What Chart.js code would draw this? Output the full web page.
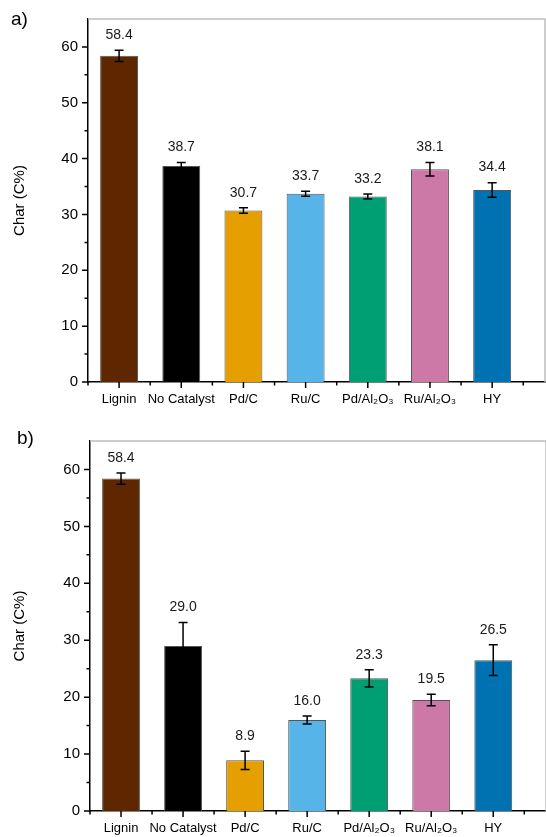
<!DOCTYPE html>
<html>
<head>
<meta charset="utf-8">
<script src="https://cdn.jsdelivr.net/npm/chart.js@4.4.1/dist/chart.umd.min.js"></script>
<style>
    body { margin: 0; background: #fff; font-family: "Liberation Sans", Arial, sans-serif; }
    .painel { position: absolute; left: 0; width: 546px; }
    .letra { position: absolute; font-size: 19px; color: #000; }
</style>
</head>
<body>
<div class="painel" style="top:0; height:418px;"><canvas id="graficoA" width="546" height="418"></canvas></div>
<div class="painel" style="top:418px; height:419px;"><canvas id="graficoB" width="546" height="419"></canvas></div>
<div class="letra" style="left:11px; top:8px;">a)</div>
<div class="letra" style="left:17px; top:427px;">b)</div>

<script>
const categorias = ["Lignin", "No Catalyst", "Pd/C", "Ru/C", "Pd/Al\u2082O\u2083", "Ru/Al\u2082O\u2083", "HY"];
const cores = ["#5e2700", "#000000", "#e69f00", "#56b4e9", "#009e73", "#cc79a7", "#0072b2"];
const ticksY = [0, 10, 20, 30, 40, 50, 60];

const charA = [58.4, 38.7, 30.7, 33.7, 33.2, 38.1, 34.4];
const erroA = [1.0, 0.6, 0.5, 0.45, 0.45, 1.2, 1.3];

const charB = [58.4, 29.0, 8.9, 16.0, 23.3, 19.5, 26.5];
const erroB = [1.0, 4.1, 1.6, 0.7, 1.5, 1.0, 2.7];

// barras de erro, rótulos, ticks e moldura cinza
const extras = {
    id: "extras",
    afterDatasetsDraw(chart, args, opts) {
        const ctx = chart.ctx;
        const x = chart.scales.x;
        const y = chart.scales.y;
        const area = chart.chartArea;
        const valores = chart.data.datasets[0].data;

        ctx.save();
        // moldura superior/direita
        ctx.strokeStyle = "#bdbdbd";
        ctx.lineWidth = 1.5;
        ctx.beginPath();
        ctx.moveTo(area.left, area.top);
        ctx.lineTo(area.right, area.top);
        ctx.lineTo(area.right, area.bottom);
        ctx.stroke();

        // erros
        ctx.strokeStyle = "#000";
        ctx.lineWidth = 1.5;
        valores.forEach((p, i) => {
            const px = x.getPixelForValue(p.x);
            const topo = y.getPixelForValue(p.y + opts.erros[i]);
            const base = y.getPixelForValue(p.y - opts.erros[i]);
            ctx.beginPath();
            ctx.moveTo(px, topo); ctx.lineTo(px, base);
            ctx.moveTo(px - 4.5, topo); ctx.lineTo(px + 4.5, topo);
            ctx.moveTo(px - 4.5, base); ctx.lineTo(px + 4.5, base);
            ctx.stroke();

            ctx.fillStyle = "#1a1a1a";
            ctx.font = "14px 'Liberation Sans', Arial, sans-serif";
            ctx.textAlign = "center";
            ctx.textBaseline = "middle";
            ctx.fillText(p.y.toFixed(1), px, topo - 15);
        });

        // marcas dos eixos
        ctx.lineWidth = 1.5;
        ctx.beginPath();
        for (let v = 0; v <= 60; v += 5) {
            const py = y.getPixelForValue(v);
            const tam = v % 10 === 0 ? 6 : 3.5;
            ctx.moveTo(area.left - tam, py); ctx.lineTo(area.left, py);
        }
        for (let v = -0.5; v <= 6.5; v += 0.5) {
            const px = x.getPixelForValue(v);
            const tam = Number.isInteger(v) ? 6 : 3.5;
            ctx.moveTo(px, area.bottom); ctx.lineTo(px, area.bottom + tam);
        }
        ctx.stroke();
        ctx.restore();
    }
};

function gerarGrafico(id, valores, erros, margem) {
    const ctx = document.getElementById(id).getContext("2d");
    new Chart(ctx, {
        type: "bar",
        data: {
            datasets: [{
                data: valores.map((v, i) => ({ x: i, y: v })),
                backgroundColor: cores,
                borderColor: "#555555",
                borderWidth: 1,
                categoryPercentage: 1,
                barPercentage: 0.61
            }]
        },
        plugins: [extras],
        options: {
            responsive: false,
            animation: false,
            layout: { padding: { top: margem.topo, right: margem.direita, left: 0, bottom: 0 } },
            plugins: {
                legend: { display: false },
                tooltip: { enabled: false },
                extras: { erros: erros }
            },
            scales: {
                x: {
                    type: "linear",
                    offset: false,
                    min: -0.5,
                    max: 6.85,
                    afterBuildTicks: (s) => { s.ticks = categorias.map((c, i) => ({ value: i })); },
                    afterFit: (s) => { s.height = margem.baixo; },
                    grid: { display: false, drawTicks: false, offset: false },
                    border: { display: true, color: "#000", width: 1.5 },
                    ticks: {
                        padding: 10,
                        maxRotation: 0,
                        autoSkip: false,
                        color: "#000",
                        font: { family: "'Liberation Sans', Arial, sans-serif", size: 13 },
                        callback: (v) => categorias[v]
                    }
                },
                y: {
                    min: 0,
                    max: 65,
                    afterBuildTicks: (s) => { s.ticks = ticksY.map(v => ({ value: v })); },
                    afterFit: (s) => { s.width = margem.esquerda; },
                    grid: { display: false, drawTicks: false },
                    border: { display: true, color: "#000", width: 1.5 },
                    title: {
                        display: true,
                        text: "Char (C%)",
                        color: "#000",
                        padding: { top: 11, bottom: 0 },
                        font: { family: "'Liberation Sans', Arial, sans-serif", size: 15 }
                    },
                    ticks: {
                        padding: 10,
                        color: "#000",
                        font: { family: "'Liberation Sans', Arial, sans-serif", size: 15 }
                    }
                }
            }
        }
    });
}

gerarGrafico("graficoA", charA, erroA, { topo: 15, direita: 1, esquerda: 88, baixo: 36 });
gerarGrafico("graficoB", charB, erroB, { topo: 23, direita: -2, esquerda: 90, baixo: 26 });
</script>
</body>
</html>
